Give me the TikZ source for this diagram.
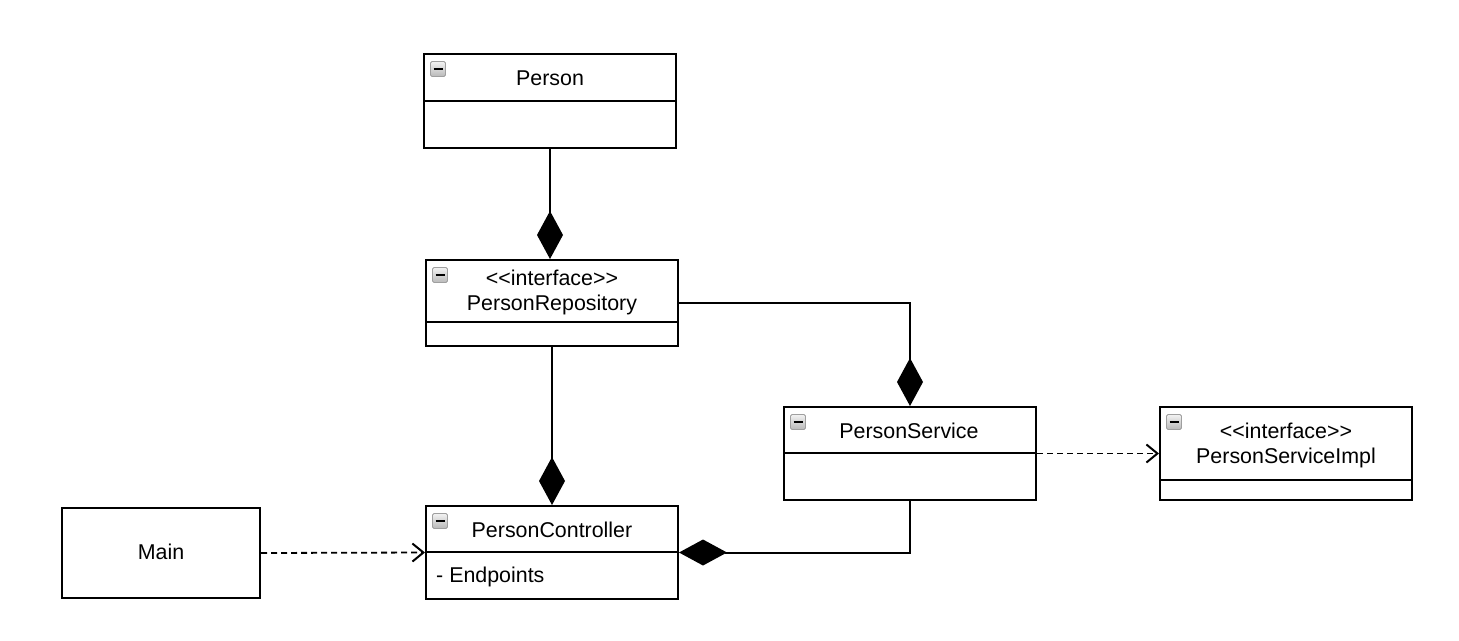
\documentclass[tikz,border=0pt]{standalone}
\usepackage{fontspec}
\setmainfont{Liberation Sans}
\usetikzlibrary{arrows.meta,calc}
\begin{document}
\begin{tikzpicture}[x=1pt,y=-1pt,
  umlbox/.style={draw=black,line width=2pt,fill=white,rectangle,inner sep=0pt},
  lbl/.style={font=\fontsize{21.4}{25}\selectfont,align=center,inner sep=0pt},
  divider/.style={draw=black,line width=2pt},
  comp/.style={draw=black,line width=2pt,-{Diamond[length=48pt,width=26pt,fill=black]}},
  dep/.style={draw=black,line width=1.8pt,dash pattern=on 6pt off 4pt,-{Straight Barb[length=11pt,width=18pt,line width=2pt]}},
  iconbox/.style={draw=gray!75,line width=0.9pt,rounded corners=1.5pt,top color=gray!10,bottom color=gray!55,minimum width=15pt,minimum height=15pt,inner sep=0pt}
]
\useasboundingbox (0,0) rectangle (1459,640);
% boxes
\node[umlbox,minimum width=252pt,minimum height=94pt] (person) at (550,101) {};
\node[umlbox,minimum width=252pt,minimum height=86pt] (repo) at (552,303) {};
\node[umlbox,minimum width=252pt,minimum height=93pt] (service) at (910,453.5) {};
\node[umlbox,minimum width=252pt,minimum height=93pt] (impl) at (1286,453.5) {};
\node[umlbox,minimum width=252pt,minimum height=93pt] (ctrl) at (552,552.5) {};
\node[umlbox,minimum width=198pt,minimum height=90pt] (main) at (161,553) {};
% dividers
\draw[divider] (person.west |- 0,101) -- (person.east |- 0,101);
\draw[divider] (repo.west |- 0,322) -- (repo.east |- 0,322);
\draw[divider] (service.west |- 0,453) -- (service.east |- 0,453);
\draw[divider] (impl.west |- 0,480) -- (impl.east |- 0,480);
\draw[divider] (ctrl.west |- 0,552) -- (ctrl.east |- 0,552);
% labels
\node[lbl] (tperson) at (550,78) {Person};
\node[lbl] (trepo) at (552,292) {<{}<interface>{}>\\PersonRepository};
\node[lbl] (tservice) at (909,431) {PersonService};
\node[lbl] (timpl) at (1286,445) {<{}<interface>{}>\\PersonServiceImpl};
\node[lbl] (tctrl) at (552,530) {PersonController};
\node[lbl,anchor=west] (tendp) at (436,577) {- Endpoints};
\node[lbl] (tmain) at (161,552) {Main};
% icons
\foreach \b in {person,repo,service,impl,ctrl}{
  \node[iconbox] (ic\b) at ($(\b.north west)+(15,16)$) {};
  \draw[black,line width=2.2pt] ($(ic\b.center)+(-4.5,0)$) -- ($(ic\b.center)+(4.5,0)$);
}
% connectors
\draw[comp] (person.south) -- (person.south |- repo.north);
\draw[comp] (repo.east) -| (service.north);
\draw[comp] (repo.south) -- (ctrl.north);
\draw[comp] (service.south) |- (ctrl.east);
\draw[dep] (service.east) -- (impl.west);
\draw[dep] (main.east) -- (ctrl.west);
\end{tikzpicture}
\end{document}
